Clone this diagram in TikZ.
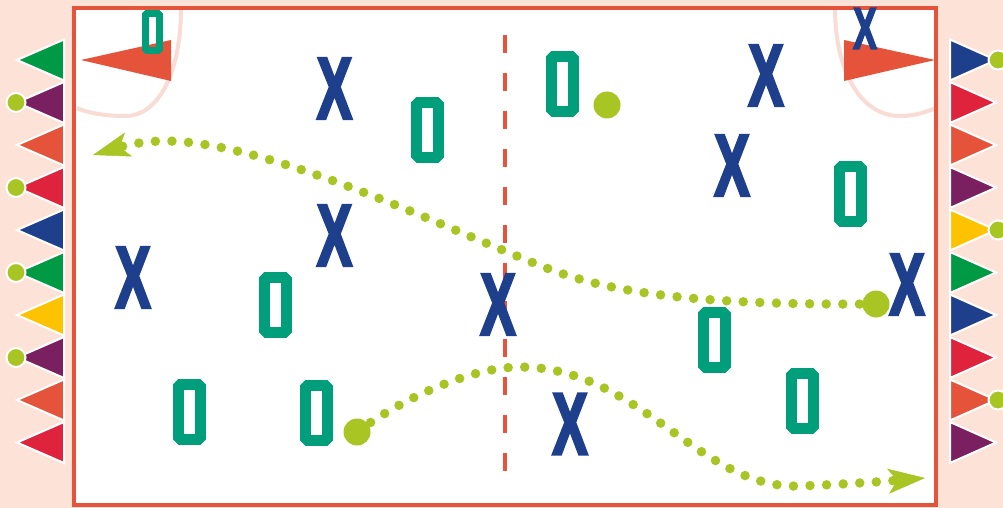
\documentclass[tikz,border=0pt]{standalone}
\usepackage{fontspec}
\newfontfamily\jelfont[FakeStretch=0.6,FakeBold=2.5]{Liberation Sans}
\usetikzlibrary{arrows.meta}
\definecolor{hatter}{HTML}{FDE3D7}
\definecolor{piros}{HTML}{E5533A}
\definecolor{ives}{HTML}{F9DCD3}
\definecolor{kek}{HTML}{1D3F8C}
\definecolor{zold}{HTML}{009A44}
\definecolor{menta}{HTML}{009E7A}
\definecolor{lila}{HTML}{7A1F5F}
\definecolor{voros}{HTML}{E0233D}
\definecolor{sarga}{HTML}{FDC300}
\definecolor{labdasz}{HTML}{A9C523}
\tikzset{
  xjel/.style={inner sep=0pt,text=kek,font={\jelfont\bfseries\fontsize{89}{89}\selectfont}},
  xkis/.style={xjel,font={\jelfont\bfseries\fontsize{59}{59}\selectfont}},
  ojel/.style={rectangle,draw=menta,line width=11pt,line join=bevel,minimum width=22pt,minimum height=55pt,inner sep=0pt},
  okis/.style={ojel,line width=7pt,minimum width=14pt,minimum height=37pt},
  labda/.style={circle,fill=labdasz,inner sep=0pt,minimum size=27pt},
  fejlabda/.style={labda,draw=white,line width=2pt,minimum size=19pt},
  zaszlo/.style={draw=white,line width=2pt},
  pottyos/.style={draw=labdasz,line width=9.5pt,line cap=round,dash pattern=on 0pt off 16.6pt},
  nyil/.style={-{Stealth[length=37pt,width=25pt,inset=9pt,line width=0.5pt]}},
  ivvonal/.style={draw=ives,line width=4pt},
}
\begin{document}
\begin{tikzpicture}[x=1pt,y=-1pt]
  \useasboundingbox (0,0) rectangle (1003,508);
  \clip (0,0) rectangle (1003,508);
  \fill[hatter] (0,0) rectangle (1003,508);
  \fill[white] (74,8.5) rectangle (936,505);
  \draw[ivvonal] (181,8) .. controls (181,70) and (160,116) .. (125,116)
    .. controls (105,116) and (88,113) .. (77,108);
  \draw[ivvonal] (835,8) .. controls (835,70) and (860,116) .. (900,116)
    .. controls (915,116) and (926,112) .. (936,108);
  \draw[piros,line width=4pt] (74,8.5) rectangle (936,505);
  \draw[piros,line width=4pt,dash pattern=on 18pt off 20pt] (505,35) -- (505,480);
  \fill[piros] (171,40) -- (81,60) -- (171,81) -- cycle;
  \fill[piros] (844,40) -- (935,60) -- (844,81) -- cycle;
  \foreach \y/\szin in {60/zold,102.5/lila,145/piros,187.5/voros,230/kek,
      272.5/zold,315/sarga,357.5/lila,400/piros,442.5/voros}
    \filldraw[zaszlo,fill=\szin] (64,\y-20.5) -- (17,\y) -- (64,\y+20.5) -- cycle;
  \foreach \y/\szin in {60/kek,102.5/voros,145/piros,187.5/lila,230/sarga,
      272.5/zold,315/kek,357.5/voros,400/piros,442.5/lila}
    \filldraw[zaszlo,fill=\szin] (950,\y-20.5) -- (996,\y) -- (950,\y+20.5) -- cycle;
  \foreach \y [count=\i] in {102.5,187.5,272.5,357.5}
    \node[fejlabda] (bal\i) at (16,\y) {};
  \foreach \y [count=\i] in {60,230,400}
    \node[fejlabda] (jobb\i) at (998,\y) {};
  \node[labda] (labdaA) at (876,304) {};
  \node[labda] (labdaB) at (357,432) {};
  \node[labda] (labdaC) at (607,105) {};
  \coordinate (hegyA) at (93,155);
  \coordinate (hegyB) at (925,478);
  \draw[pottyos,nyil] (labdaA.center) .. controls (620,306) and (570,278) .. (505,251)
    .. controls (420,216) and (260,141) .. (165,141)
    .. controls (140,141) and (120,147) .. (hegyA);
  \draw[pottyos,nyil] (labdaB.center) .. controls (400,400) and (470,367) .. (520,367)
    .. controls (640,367) and (700,490) .. (800,486)
    .. controls (850,484) and (890,481) .. (hegyB);
  \foreach \p [count=\i] in {(334.5,88.5),(334.5,235.5),(133,277.5),(498,304.5),
      (570,424),(732,165.5),(766,75.5),(907,284.5)}
    \node[xjel] (x\i) at \p {X};
  \node[xkis] (xk) at (865,28.5) {X};
  \foreach \p [count=\i] in {(427,130),(562.5,84),(850,194),(275.5,304.5),
      (189.5,411.5),(316,412.5),(714,339.5),(802,400.5)}
    \node[ojel] (o\i) at \p {};
  \node[okis] (ok) at (152.5,32) {};
\end{tikzpicture}
\end{document}
